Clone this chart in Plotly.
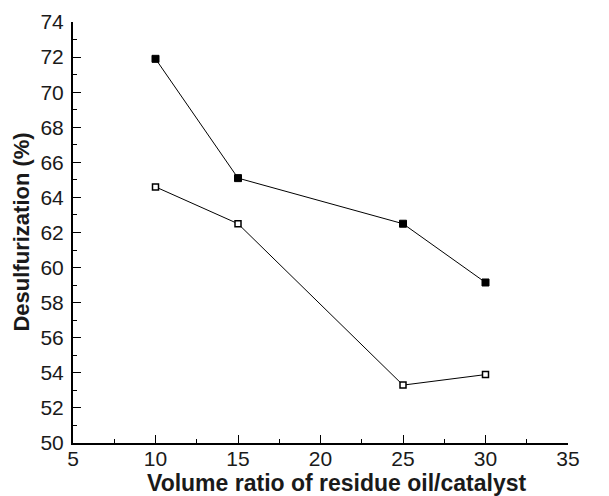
import plotly.graph_objects as go

ratio = [10, 15, 25, 30]
desulf_filled = [71.9, 65.1, 62.5, 59.15]
desulf_open = [64.6, 62.5, 53.3, 53.9]

x_ticks = [5, 10, 15, 20, 25, 30, 35]
y_ticks = [50, 52, 54, 56, 58, 60, 62, 64, 66, 68, 70, 72, 74]

fig = go.Figure()
fig.add_trace(go.Scatter(
    x=ratio, y=desulf_filled, mode="lines+markers",
    line=dict(color="black", width=1),
    marker=dict(symbol="square", size=7, color="black", line=dict(color="black", width=1)),
    showlegend=False))
fig.add_trace(go.Scatter(
    x=ratio, y=desulf_open, mode="lines+markers",
    line=dict(color="black", width=1),
    marker=dict(symbol="square", size=6, color="white", line=dict(color="black", width=1.5)),
    showlegend=False))

font_color = "#1a1a1a"
fig.update_layout(
    width=601, height=488,
    margin=dict(l=65, r=41, t=14, b=53),
    plot_bgcolor="white", paper_bgcolor="white",
    font=dict(family="Liberation Sans, Arial, sans-serif", size=21, color=font_color),
    xaxis=dict(
        range=[5, 35], tickvals=x_ticks, ticks="inside", ticklen=8, tickwidth=1,
        tickcolor="black", showline=True, linecolor="black", linewidth=2,
        showgrid=False, zeroline=False, automargin=False, ticklabelstandoff=-4,
        minor=dict(tickvals=[7.5, 12.5, 17.5, 22.5, 27.5, 32.5], ticks="inside", ticklen=4, tickcolor="black", tickwidth=1),
        tickfont=dict(size=21),
    ),
    yaxis=dict(
        range=[50, 74], tickvals=y_ticks, ticks="inside", ticklen=8, tickwidth=1,
        tickcolor="black", showline=True, linecolor="black", linewidth=2,
        showgrid=False, zeroline=False, automargin=False, ticklabelstandoff=3,
        minor=dict(tickvals=[51, 53, 55, 57, 59, 61, 63, 65, 67, 69, 71, 73], ticks="inside", ticklen=4, tickcolor="black", tickwidth=1),
        tickfont=dict(size=21),
    ),
    annotations=[
        dict(text="<b>Volume ratio of residue oil/catalyst</b>", xref="paper", yref="paper",
             x=0.533, y=-0.095, xanchor="center", yanchor="middle", showarrow=False,
             font=dict(size=23, color=font_color)),
        dict(text="<b>Desulfurization (%)</b>", xref="paper", yref="paper",
             x=-0.105, y=0.5, xanchor="center", yanchor="middle", showarrow=False,
             textangle=-90, font=dict(size=22, color=font_color)),
    ],
)
fig.write_html("out.html")
